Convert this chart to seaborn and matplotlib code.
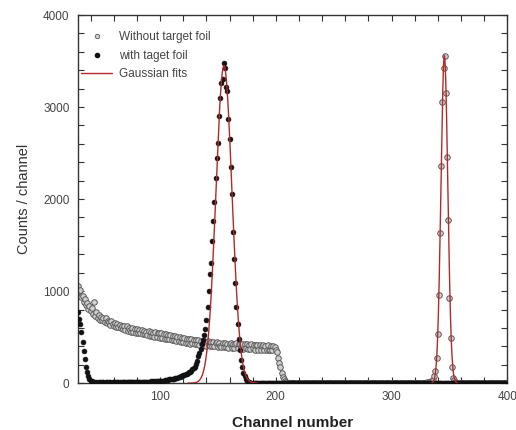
import numpy as np
import pandas as pd
import matplotlib
matplotlib.use("Agg")
import matplotlib.pyplot as plt
from matplotlib.lines import Line2D
from matplotlib.ticker import MultipleLocator
import seaborn as sns

# ---------------- data ----------------
# "Without target foil" : segments (start channel, counts per channel)
gray_start_1 = 29
gray_counts_1 = [
    1060, 1000, 1010, 940, 950, 880, 910, 845, 870, 805, 835, 780, 815, 755, 885, 730, 770, 705, 745, 690,
    715, 690, 705, 660, 705, 650, 680, 660, 635, 670, 640, 625, 655, 610, 645, 605, 635, 600, 620, 585,
    625, 580, 620, 570, 600, 580, 560, 600, 555, 590, 550, 585, 545, 575, 540, 575, 535, 570, 530, 560,
    525, 565, 515, 560, 510, 550, 505, 560, 500, 545, 550, 495, 540, 490, 535, 485, 530, 480, 525, 475,
    520, 470, 515, 465, 510, 460, 505, 455, 500, 450, 495, 445, 490, 440, 485, 435, 480, 430, 475, 440,
    470, 425, 470, 420, 465, 415, 460, 425, 410, 460, 420, 405, 455, 415, 400, 450, 405, 445, 400, 440,
    445, 395, 440, 400, 390, 440, 395, 435, 390, 430, 385, 430, 440, 385, 430, 380, 425, 435, 380, 425,
    420, 380, 430, 375, 420, 385, 425, 375, 415, 370, 420, 380, 415, 365, 410, 415, 365, 410, 360, 405,
    410, 365, 405, 360, 410, 365, 355, 405, 360, 400, 390, 365,
]
gray_start_2 = 201
gray_counts_2 = [340, 275, 220, 170, 115, 70, 40, 20, 8, 2]
gray_start_3 = 211
gray_counts_3 = [
    0, 1, 0, 0, 2, 0, 0, 1, 0, 0, 0, 2, 0, 0, 1, 0, 0, 0, 1, 0, 0, 2, 0, 0, 0,
    1, 0, 0, 0, 2, 0, 0, 1, 0, 0, 0, 0, 1, 0, 0, 2, 0, 0, 0, 1, 0, 0, 0, 2, 0,
    0, 1, 0, 0, 0, 2, 0, 0, 1, 0, 0, 0, 0, 1, 0, 0, 2, 0, 0, 0, 1, 0, 0, 0, 2,
    0, 0, 1, 0, 0, 0, 2, 0, 0, 1, 0, 0, 0, 0, 1, 0, 0, 2, 0, 0, 0, 1, 0, 0, 0,
    2, 0, 0, 1, 0, 0, 0, 2, 0, 0, 1, 0, 0, 0, 1, 0, 2, 3, 4, 6, 8, 10, 14, 18, 22,
]
gray_start_4 = 336
gray_counts_4 = [30, 75, 130, 270, 530, 960, 1630, 2360, 3060, 3430,
                 3560, 3150, 2460, 1770, 930, 490, 170, 60, 30, 10]
gray_start_5 = 356
gray_counts_5 = [
    4, 2, 1, 0, 0, 1, 0, 0, 2, 0, 0, 0, 1, 0, 0, 0, 2, 0, 0, 1, 0, 0, 0,
    1, 0, 0, 2, 0, 0, 0, 1, 0, 0, 0, 2, 0, 0, 1, 0, 0, 0, 0, 1, 0, 0,
]

# "with taget foil"
black_start_1 = 29
black_counts_1 = [770, 700, 640, 560, 450, 350, 260, 180, 120, 75, 45, 28, 18, 12, 8]
black_start_2 = 44
black_counts_2 = [
    6, 9, 5, 8, 10, 6, 7, 11, 5, 8, 9, 6, 10, 7, 5, 9, 8, 11, 6, 7,
    10, 8, 6, 12, 9, 7, 10, 8, 11, 9, 12, 8, 10, 13, 9, 11, 14, 10, 12, 15,
    11, 13, 16, 12, 14, 17, 13, 16, 18, 15, 19, 17, 20, 18, 22, 21,
]
black_start_3 = 100
black_counts_3 = [
    25, 24, 28, 27, 32, 30, 36, 35, 40, 42, 45, 47, 50, 54, 58, 61, 65, 70, 75, 80,
    85, 90, 95, 102, 110, 117, 125, 137, 150, 165, 180, 205, 240, 290, 330, 370, 420, 470, 525, 590,
]
black_start_4 = 140
black_counts_4 = [
    690, 830, 1000, 1190, 1310, 1545, 1760, 1970, 2225, 2450, 2610, 2900, 3100, 3265, 3300,
    3480, 3425, 3220, 3175, 2875, 2650, 2350, 2050, 1640, 1345, 1090, 830, 640, 480, 360,
    255, 175, 115, 75, 45, 28, 15, 8, 4,
]
black_start_5 = 179
black_counts_5 = [
    3, 2, 1, 2, 0, 1, 0, 2, 1, 0, 0, 1, 0, 2, 0, 1, 0, 0, 1, 0, 2, 0,
    0, 1, 0, 0, 2, 0, 1, 0, 0, 1, 0, 0, 2, 0, 0, 1, 0, 0, 1, 0, 0, 2,
    0, 1, 0, 0, 1, 0, 2, 0, 0, 1, 0, 0, 1, 0, 2, 0, 0, 1, 0, 0, 0, 1,
    0, 2, 0, 0, 1, 0, 0, 1, 0, 2, 0, 0, 1, 0, 0, 0, 1, 0, 2, 0, 0, 1,
    0, 0, 1, 0, 2, 0, 0, 1, 0, 0, 0, 1, 0, 2, 0, 0, 1, 0, 0, 1, 0, 2,
    0, 0, 1, 0, 0, 0, 1, 0, 2, 0, 0, 1, 0, 0, 1, 0, 2, 0, 0, 1, 0, 0,
    0, 1, 0, 2, 0, 0, 1, 0, 0, 1, 0, 2, 0, 0, 1, 0, 0, 0, 1, 0, 2, 0,
    0, 1, 0, 0, 1, 0, 2, 0, 0, 1, 0, 0, 0, 1, 0, 2, 0, 0, 1, 0, 0, 1,
    0, 2, 0, 0, 1, 0, 0, 0, 1, 0, 2, 0, 0, 1, 0, 0, 1, 0, 2, 0, 0, 1,
    0, 0, 0, 1, 0, 2, 0, 0, 1, 0, 0, 1, 0, 2, 0, 0, 1, 0, 0, 0, 1, 0,
]

# Gaussian fits (parameters)
fit_amplitudes = [3450, 3560]
fit_centers = [155.2, 345.7]
fit_sigmas = [6.9, 2.95]
fit_from = [124, 335]
fit_to = [184, 357]

legend_labels = ["Without target foil", "with taget foil", "Gaussian fits"]
x_ticklabels = ["100", "200", "300", "400"]
y_ticklabels = ["0", "1000", "2000", "3000", "4000"]


def build(segments, name):
    frames = []
    for start, vals in segments:
        frames.append(pd.DataFrame({"channel": start + np.arange(len(vals)),
                                    "counts": vals}))
    df = pd.concat(frames, ignore_index=True)
    df["series"] = name
    return df


gray_df = build([(gray_start_1, gray_counts_1), (gray_start_2, gray_counts_2),
                 (gray_start_3, gray_counts_3), (gray_start_4, gray_counts_4),
                 (gray_start_5, gray_counts_5)], legend_labels[0])
black_df = build([(black_start_1, black_counts_1), (black_start_2, black_counts_2),
                  (black_start_3, black_counts_3), (black_start_4, black_counts_4),
                  (black_start_5, black_counts_5)], legend_labels[1])
gray_df = gray_df[gray_df.channel <= 400]
black_df = black_df[black_df.channel <= 400]

fit_frames = []
for i, (a, c, s, lo, hi) in enumerate(zip(fit_amplitudes, fit_centers, fit_sigmas, fit_from, fit_to)):
    xx = np.linspace(lo, hi, 400)
    fit_frames.append(pd.DataFrame({"channel": xx,
                                    "counts": a * np.exp(-(xx - c) ** 2 / (2 * s ** 2)),
                                    "peak": i}))
fit_df = pd.concat(fit_frames, ignore_index=True)

# ---------------- plotting ----------------
sns.set_theme(style="ticks")
plt.rcParams['font.family'] = ['Liberation Sans', 'DejaVu Sans']

fig = plt.figure(figsize=(5.16, 4.30), dpi=100)
ax = fig.add_axes([0.151, 0.109, 0.832, 0.856])

gray_face = "#d0d0d0"
gray_edge = "#5a5a5a"
red = "#b5282a"

sns.scatterplot(data=gray_df, x="channel", y="counts", ax=ax, marker="o", s=16,
                color=gray_face, edgecolor=gray_edge, linewidth=0.7, legend=False, zorder=2)
sns.scatterplot(data=black_df, x="channel", y="counts", ax=ax, marker="o", s=12,
                color="#111111", edgecolor="#111111", linewidth=0.5, legend=False, zorder=3)
sns.lineplot(data=fit_df, x="channel", y="counts", units="peak", estimator=None,
             ax=ax, color=red, linewidth=1.0, legend=False, zorder=4)

ax.set_xlim(29, 400)
ax.set_ylim(0, 4000)
ax.set_xticks([100, 200, 300, 400])
ax.set_xticklabels(x_ticklabels)
ax.set_yticks([0, 1000, 2000, 3000, 4000])
ax.set_yticklabels(y_ticklabels)
ax.xaxis.set_minor_locator(MultipleLocator(20))
ax.yaxis.set_minor_locator(MultipleLocator(200))
ax.tick_params(which="both", direction="in", top=True, right=True,
               length=4, width=0.8, color="#333333")
ax.tick_params(which="major", labelsize=8.5, labelcolor="#444444", pad=6)
for sp in ax.spines.values():
    sp.set_linewidth(1.0)
    sp.set_color("#333333")

ax.set_xlabel("Channel number", fontsize=11, fontweight="bold", color="#222222", labelpad=9)
ax.set_ylabel("Counts / channel", fontsize=10.5, color="#333333", labelpad=9)

handles = [
    Line2D([], [], linestyle="none", marker="o", markersize=3.2,
           markerfacecolor=gray_face, markeredgecolor=gray_edge, markeredgewidth=0.6),
    Line2D([], [], linestyle="none", marker="o", markersize=3.0,
           markerfacecolor="#111111", markeredgecolor="#111111"),
    Line2D([], [], color=red, linewidth=1.0),
]
leg = ax.legend(handles, legend_labels, loc="upper left", bbox_to_anchor=(0.0, 0.965),
                frameon=False, fontsize=8.5, handlelength=2.6, handletextpad=0.6,
                labelspacing=0.55, borderaxespad=0.0, borderpad=0.3)
for t in leg.get_texts():
    t.set_color("#444444")

fig.savefig("out.png", dpi=100)
